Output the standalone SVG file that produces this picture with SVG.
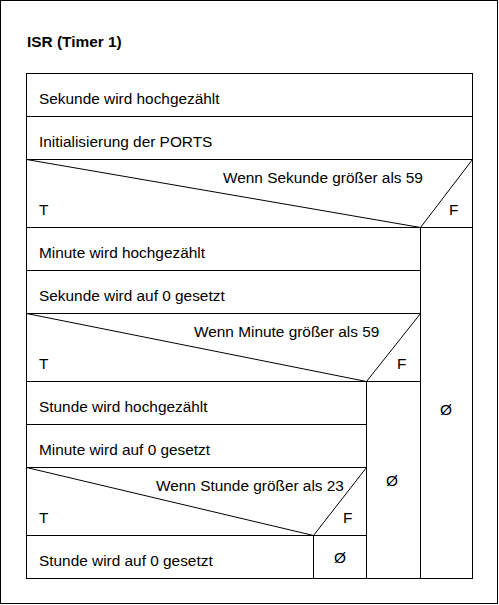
<svg xmlns="http://www.w3.org/2000/svg" width="499" height="605" viewBox="0 0 499 605">
<style>
.ln{stroke:#000;stroke-width:1;fill:none}
.box{stroke:#000;stroke-width:1;fill:#fff}
text{font-family:"Liberation Sans",Arial,sans-serif;font-size:15.4px;fill:#000}
.title{font-weight:bold}
</style>
<rect x="0" y="0" width="499" height="605" fill="#fff"/>
<rect class="box" x="0.5" y="0.5" width="497" height="603"/>
<text class="title" x="27" y="47">ISR (Timer 1)</text>
<g id="frame"><rect class="box" x="26.5" y="73.5" width="446" height="505"/></g>
<g id="s1"><line class="ln" x1="26.5" y1="116.5" x2="472.5" y2="116.5"/><text x="39" y="104">Sekunde wird hochgezählt</text></g>
<g id="s2"><line class="ln" x1="26.5" y1="159.5" x2="472.5" y2="159.5"/><text x="39" y="147">Initialisierung der PORTS</text></g>
<g id="c1">
<polyline class="ln" points="26.5,159.5 420.5,227.5 472.5,159.5"/>
<line class="ln" x1="26.5" y1="227.5" x2="472.5" y2="227.5"/>
<line class="ln" x1="420.5" y1="227.5" x2="420.5" y2="578.5"/>
<text x="223" y="183">Wenn Sekunde größer als 59</text>
<text x="39" y="215">T</text><text x="449" y="215">F</text>
<text x="446" y="415" text-anchor="middle">Ø</text>
</g>
<g id="s3"><line class="ln" x1="26.5" y1="270.5" x2="420.5" y2="270.5"/><text x="39" y="258">Minute wird hochgezählt</text></g>
<g id="s4"><line class="ln" x1="26.5" y1="313.5" x2="420.5" y2="313.5"/><text x="39" y="301">Sekunde wird auf 0 gesetzt</text></g>
<g id="c2">
<polyline class="ln" points="26.5,313.5 366.5,381.5 420.5,313.5"/>
<line class="ln" x1="26.5" y1="381.5" x2="420.5" y2="381.5"/>
<line class="ln" x1="366.5" y1="381.5" x2="366.5" y2="578.5"/>
<text x="194" y="337">Wenn Minute größer als 59</text>
<text x="39" y="369">T</text><text x="397" y="369">F</text>
<text x="392" y="486" text-anchor="middle">Ø</text>
</g>
<g id="s5"><line class="ln" x1="26.5" y1="424.5" x2="366.5" y2="424.5"/><text x="39" y="412">Stunde wird hochgezählt</text></g>
<g id="s6"><line class="ln" x1="26.5" y1="467.5" x2="366.5" y2="467.5"/><text x="39" y="455">Minute wird auf 0 gesetzt</text></g>
<g id="c3">
<polyline class="ln" points="26.5,467.5 313.5,535.5 366.5,467.5"/>
<line class="ln" x1="26.5" y1="535.5" x2="366.5" y2="535.5"/>
<line class="ln" x1="313.5" y1="535.5" x2="313.5" y2="578.5"/>
<text x="156" y="491">Wenn Stunde größer als 23</text>
<text x="39" y="523">T</text><text x="343" y="523">F</text>
<text x="340" y="563" text-anchor="middle">Ø</text>
</g>
<g id="s7"><text x="39" y="566">Stunde wird auf 0 gesetzt</text></g>
<g id="connectors"></g>
</svg>
